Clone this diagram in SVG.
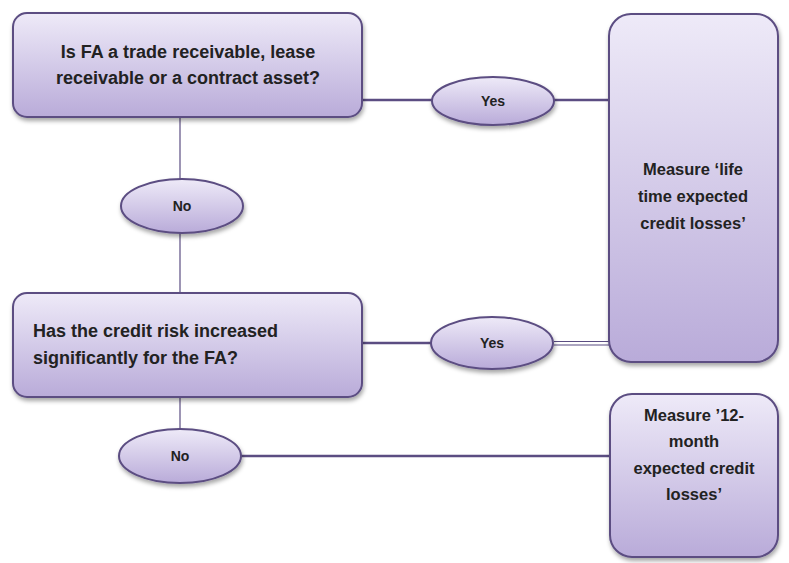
<svg xmlns="http://www.w3.org/2000/svg" width="789" height="563" viewBox="0 0 789 563">
<defs>
<linearGradient id="g" x1="0" y1="0" x2="0" y2="1">
<stop offset="0" stop-color="#eeeaf8"/>
<stop offset="1" stop-color="#b9abd9"/>
</linearGradient>
<filter id="sh" x="-10%" y="-10%" width="130%" height="130%">
<feDropShadow dx="1" dy="3" stdDeviation="2" flood-color="#000" flood-opacity="0.35"/>
</filter>
<style>
.box{fill:url(#g);stroke:#5b4d82;stroke-width:2;filter:url(#sh)}
.ell{fill:url(#g);stroke:#5b4d82;stroke-width:2;filter:url(#sh)}
.ln{stroke:#5b4d82;stroke-width:2.5;fill:none}
.ln2{stroke:#5b4d82;stroke-width:1.2;fill:none}
.t{font-family:"Liberation Sans",Arial,sans-serif;font-weight:bold;fill:#222;font-size:18px}
.r{font-family:"Liberation Sans",Arial,sans-serif;font-weight:bold;fill:#222;font-size:16.5px;text-anchor:middle}
.s{font-family:"Liberation Sans",Arial,sans-serif;font-weight:bold;fill:#222;font-size:14px;text-anchor:middle}
.c{text-anchor:middle}
</style>
</defs>
<rect width="789" height="563" fill="#fff"/>
<g id="connectors">
<line class="ln" x1="362" y1="100" x2="432" y2="100"/>
<line class="ln" x1="554" y1="100" x2="609" y2="100"/>
<line class="ln2" x1="180" y1="117" x2="180" y2="293"/>
<line class="ln" x1="362" y1="343" x2="432" y2="343"/>
<line class="ln2" x1="554" y1="341.5" x2="609" y2="341.5"/>
<line class="ln2" x1="554" y1="345" x2="609" y2="345"/>
<line class="ln2" x1="180" y1="397" x2="180" y2="430"/>
<line class="ln" x1="240" y1="456" x2="610" y2="456"/>
</g>
<g id="q1">
<rect class="box" x="13" y="13" width="349" height="104" rx="14"/>
<text class="t c" x="188" y="58">Is FA a trade receivable, lease</text>
<text class="t c" x="188" y="84">receivable or a contract asset?</text>
</g>
<g id="yes1">
<ellipse class="ell" cx="493" cy="101" rx="61" ry="24"/>
<text class="s" x="493" y="106">Yes</text>
</g>
<g id="no1">
<ellipse class="ell" cx="182" cy="206" rx="61" ry="27"/>
<text class="s" x="182" y="211">No</text>
</g>
<g id="q2">
<rect class="box" x="13" y="293" width="349" height="104" rx="14"/>
<text class="t" x="33" y="337">Has the credit risk increased</text>
<text class="t" x="33" y="364">significantly for the FA?</text>
</g>
<g id="yes2">
<ellipse class="ell" cx="492" cy="343" rx="61" ry="26"/>
<text class="s" x="492" y="348">Yes</text>
</g>
<g id="lifetime">
<rect class="box" x="609" y="14" width="169" height="348" rx="22"/>
<text class="r" x="693" y="175">Measure ‘life</text>
<text class="r" x="693" y="202">time expected</text>
<text class="r" x="693" y="229">credit losses’</text>
</g>
<g id="no2">
<ellipse class="ell" cx="180" cy="456" rx="61" ry="27"/>
<text class="s" x="180" y="461">No</text>
</g>
<g id="twelve">
<rect class="box" x="610" y="394" width="168" height="163" rx="22"/>
<text class="r" x="694" y="421">Measure ’12-</text>
<text class="r" x="694" y="447">month</text>
<text class="r" x="694" y="474">expected credit</text>
<text class="r" x="694" y="500">losses’</text>
</g>
</svg>
